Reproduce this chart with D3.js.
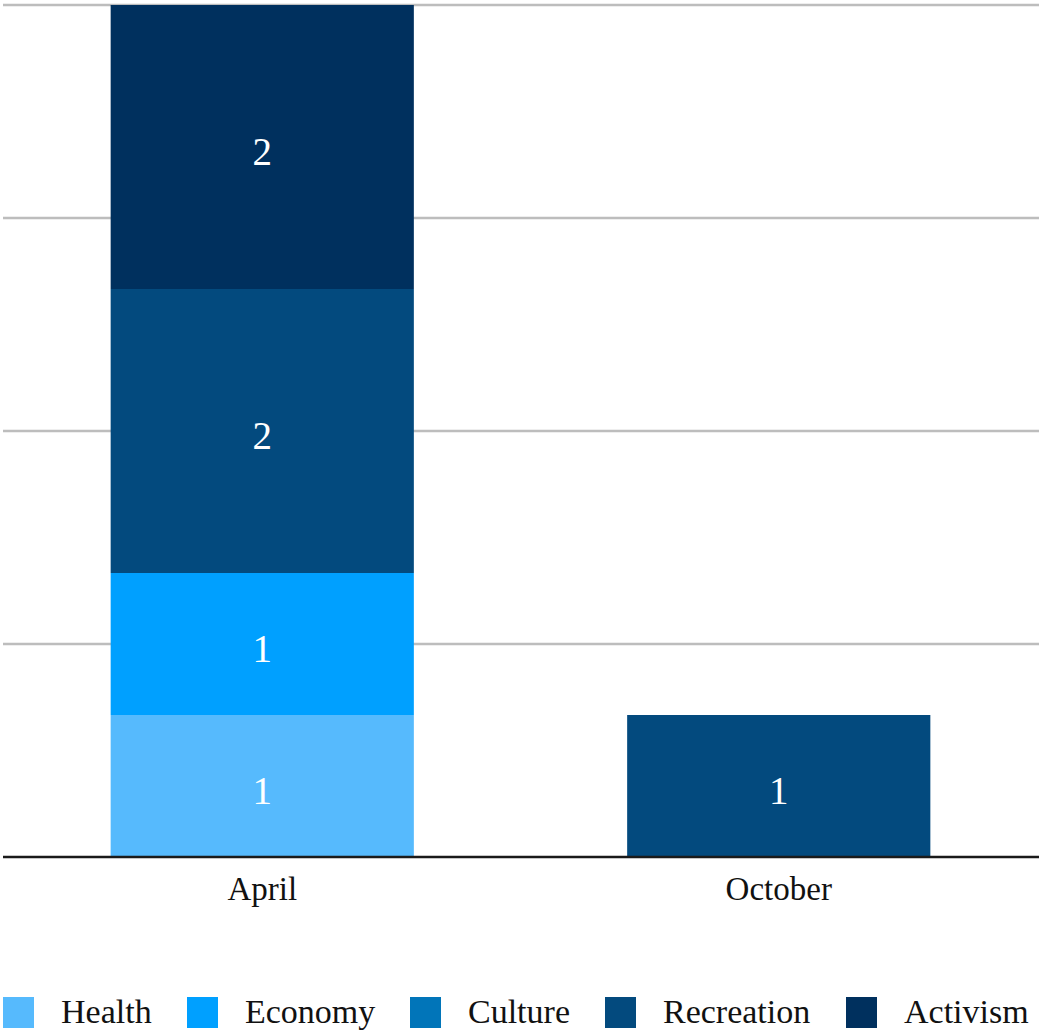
<!DOCTYPE html>
<html><head><meta charset="utf-8">
<script src="https://cdn.jsdelivr.net/npm/d3@7"></script>
<style>html,body{margin:0;padding:0;background:#fff;}svg{display:block;}</style>
</head><body>
<script>
const categories = ["April", "October"];
const seriesNames = ["Health", "Economy", "Culture", "Recreation", "Activism"];
const health = [1, 0];
const economy = [1, 0];
const culture = [0, 0];
const recreation = [2, 1];
const activism = [2, 0];
const gridTicks = [0, 1.5, 3, 4.5, 6];
const colors = ["#56bafd", "#00a0ff", "#0175b9", "#034a7e", "#00305e"];

const W = 1039, H = 1034;
const svg = d3.select("body").append("svg").attr("width", W).attr("height", H);
const font = "'Liberation Serif', 'Times New Roman', serif";

const rows = categories.map((c, i) => ({
  cat: c, Health: health[i], Economy: economy[i], Culture: culture[i],
  Recreation: recreation[i], Activism: activism[i]
}));
const stacked = d3.stack().keys(seriesNames)(rows);

const x = d3.scaleBand().domain(categories).range([4, 1037]).paddingInner(0.413).paddingOuter(0.2065);
const y = d3.scaleLinear().domain([0, 6]).range([857, 5]);
const color = d3.scaleOrdinal().domain(seriesNames).range(colors);

// grid
svg.append("g").selectAll("line").data(gridTicks.filter(t => t > 0)).join("line")
  .attr("x1", 3).attr("x2", W).attr("y1", d => y(d)).attr("y2", d => y(d))
  .attr("stroke", "#bdbdbd").attr("stroke-width", 2.6);

// bars
const layers = svg.append("g").selectAll("g").data(stacked).join("g")
  .attr("fill", d => color(d.key));
layers.selectAll("rect").data(d => d.filter(s => s[1] - s[0] > 0)).join("rect")
  .attr("x", d => x(d.data.cat)).attr("width", x.bandwidth())
  .attr("y", d => y(d[1])).attr("height", d => y(d[0]) - y(d[1]));

// value labels
const labels = svg.append("g");
stacked.forEach(layer => {
  layer.filter(s => s[1] - s[0] > 0).forEach(s => {
    labels.append("text")
      .attr("x", x(s.data.cat) + x.bandwidth() / 2)
      .attr("y", (y(s[0]) + y(s[1])) / 2 + 18)
      .attr("text-anchor", "middle")
      .attr("font-family", font).attr("font-size", 39)
      .attr("fill", "#ffffff")
      .text(s[1] - s[0]);
  });
});

// baseline
svg.append("line").attr("x1", 3).attr("x2", W).attr("y1", y(0)).attr("y2", y(0))
  .attr("stroke", "#1a1a1a").attr("stroke-width", 2.5);

// x axis labels
const xAxis = d3.axisBottom(x).tickSize(0).tickPadding(0);
const gx = svg.append("g").attr("transform", `translate(0,${y(0)})`).call(xAxis);
gx.select(".domain").remove();
gx.selectAll("text").attr("font-family", font).attr("font-size", 33)
  .attr("fill", "#111").attr("dy", null).attr("y", 43);

// legend
const legendX = [3, 187, 410, 605, 846];
const lg = svg.append("g").selectAll("g").data(seriesNames).join("g")
  .attr("transform", (d, i) => `translate(${legendX[i]},997)`);
lg.append("rect").attr("width", 31).attr("height", 31).attr("fill", d => color(d));
lg.append("text").attr("x", 58).attr("y", 26)
  .attr("font-family", font).attr("font-size", 34).attr("fill", "#111").text(d => d);
</script>
</body></html>
